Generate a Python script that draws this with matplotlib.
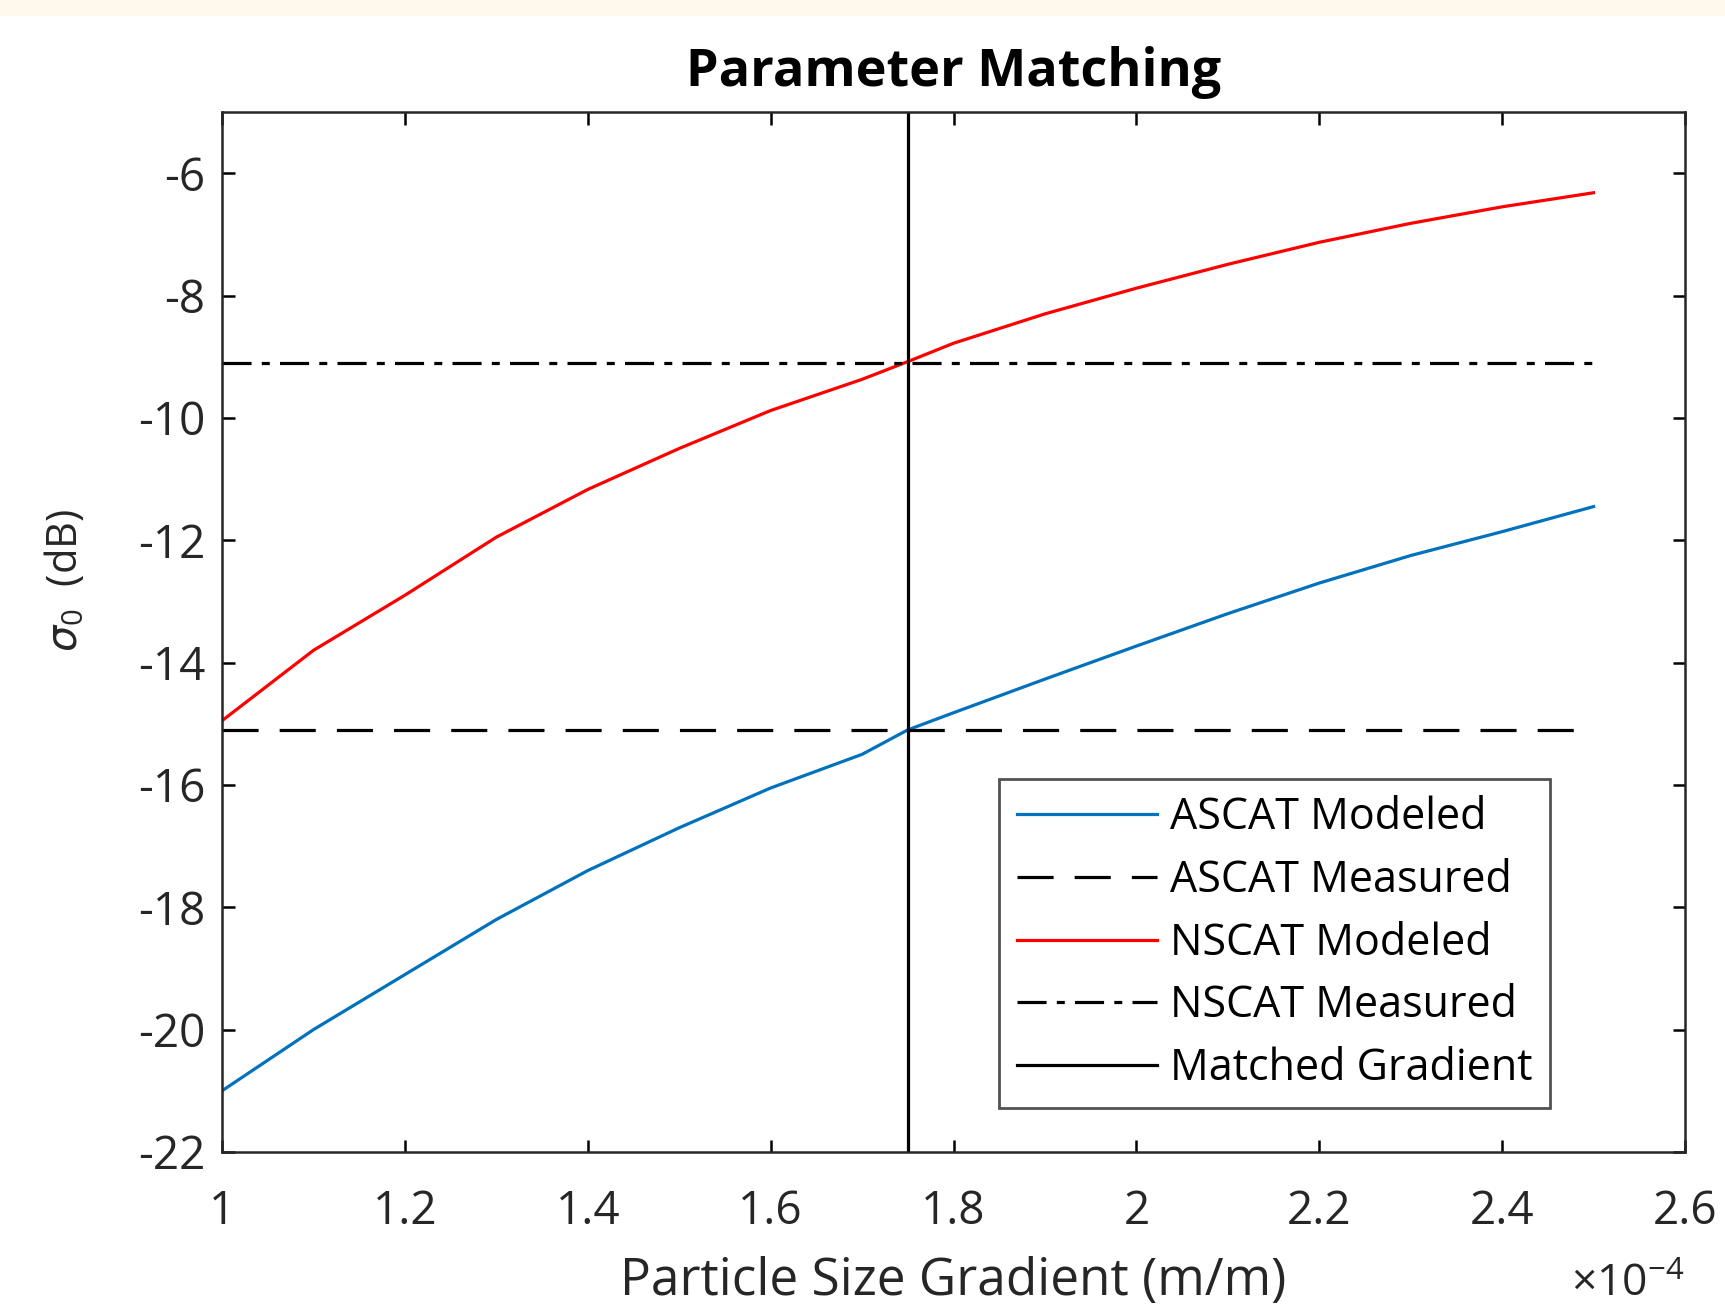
import numpy as np
import matplotlib
matplotlib.use("Agg")
import matplotlib.pyplot as plt
from matplotlib.patches import Rectangle
from matplotlib.ticker import FuncFormatter

plt.rcParams["font.family"] = ["Open Sans", "DejaVu Sans"]
plt.rcParams["axes.unicode_minus"] = False
plt.rcParams["mathtext.fontset"] = "custom"
plt.rcParams["mathtext.rm"] = "Open Sans"
plt.rcParams["mathtext.it"] = "DejaVu Sans:italic"

# particle size gradient (m/m)
gradient = [1.0e-4, 1.1e-4, 1.2e-4, 1.3e-4, 1.4e-4, 1.5e-4, 1.6e-4, 1.7e-4, 1.75e-4,
            1.8e-4, 1.9e-4, 2.0e-4, 2.1e-4, 2.2e-4, 2.3e-4, 2.4e-4, 2.5e-4]
ascat_modeled = [-21.0, -20.0, -19.1, -18.2, -17.4, -16.7, -16.05, -15.5, -15.1,
                 -14.82, -14.27, -13.73, -13.2, -12.7, -12.25, -11.86, -11.45]
nscat_modeled = [-14.95, -13.8, -12.9, -11.95, -11.17, -10.5, -9.88, -9.37, -9.08,
                 -8.78, -8.3, -7.88, -7.49, -7.13, -6.82, -6.55, -6.32]
ascat_measured = -15.1
nscat_measured = -9.1
matched_gradient = 1.75e-4
grad_range = [1.0e-4, 2.5e-4]

fig = plt.figure(figsize=(17.25, 13.08), dpi=100)
fig.patches.append(Rectangle((0, 1 - 15 / 1308), 1, 15 / 1308, transform=fig.transFigure,
                             color="#FFF8EC", zorder=-1))
ax = fig.add_axes([222 / 1725, 1 - 1152 / 1308, 1463 / 1725, 1040 / 1308])

lw = 2.3
ax.plot(gradient, ascat_modeled, color="#0072BD", lw=lw, label="ASCAT Modeled")
ax.plot(grad_range, [ascat_measured] * 2, color="black", lw=lw,
        linestyle=(0, (11.3, 6.6)), label="ASCAT Measured")
ax.plot(gradient, nscat_modeled, color="#FF0000", lw=lw, label="NSCAT Modeled")
ax.plot(grad_range, [nscat_measured] * 2, color="black", lw=lw,
        linestyle=(0, (9.1, 3.2, 2.5, 3.2)), label="NSCAT Measured")
ax.axvline(matched_gradient, color="black", lw=lw, label="Matched Gradient")

ax.set_xlim(1.0e-4, 2.6e-4)
ax.set_ylim(-22, -5)
ax.set_xticks(np.arange(1.0, 2.61, 0.2) * 1e-4)
ax.set_yticks(np.arange(-22, -5, 2))
ax.xaxis.set_major_formatter(FuncFormatter(lambda v, p: "%g" % round(v / 1e-4, 6)))
ax.text(1.0, -0.128, r"$\times\mathregular{10^{-4}}$", transform=ax.transAxes,
        ha="right", va="center", fontsize=32, color="#262626")

ax.tick_params(direction="in", length=9, width=1.8, top=True, right=True,
               labelsize=33, labelcolor="#262626")
ax.tick_params(axis="x", pad=27)
ax.tick_params(axis="y", pad=12)
for s in ax.spines.values():
    s.set_linewidth(1.8)
    s.set_color("#262626")

ax.set_title("Parameter Matching", fontsize=37.5, fontweight="bold", pad=19)
ax.set_xlabel("Particle Size Gradient (m/m)", fontsize=37, color="#262626", labelpad=15)
ax.set_ylabel(r"$\sigma_{\mathregular{0}}$  (dB)", fontsize=30, color="#262626")
ax.yaxis.set_label_coords(-0.092, 0.55)

leg = ax.legend(loc="lower right", bbox_to_anchor=(0.9077, 0.0423), fontsize=31,
                frameon=True, fancybox=False, handlelength=3.27, borderpad=0.4,
                labelspacing=0.42, handletextpad=0.3, borderaxespad=0)
leg.get_frame().set_edgecolor("#262626")
leg.get_frame().set_linewidth(2.0)

fig.savefig("out.png", dpi=100)
